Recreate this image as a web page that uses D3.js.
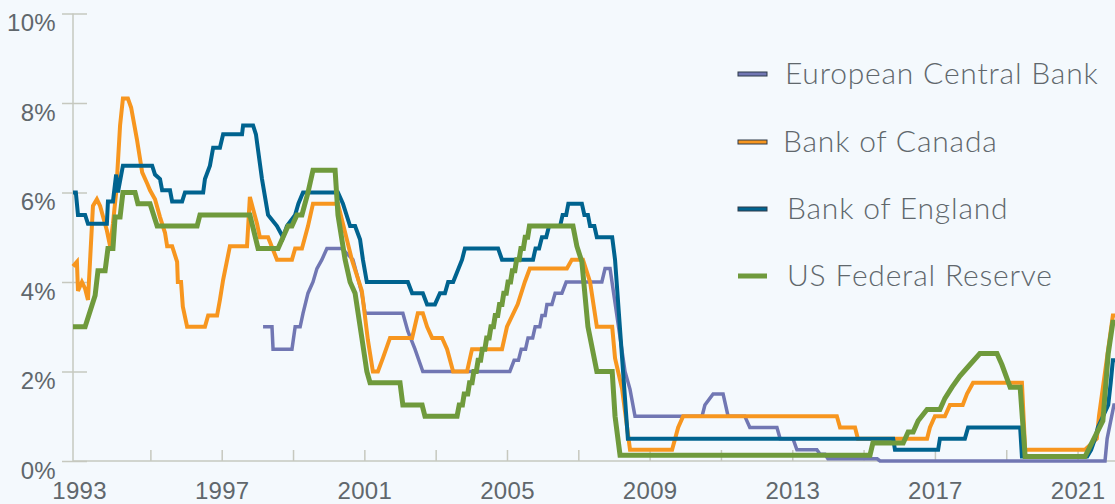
<!DOCTYPE html>
<html>
<head>
<meta charset="utf-8">
<script src="https://cdn.jsdelivr.net/npm/d3@7"></script>
<style>
  body { margin: 0; background: #f4f9fd; }
  svg { display: block; font-family: Lato, "Open Sans", sans-serif; }
  .axis text { fill: #60676c; font-size: 24px; font-weight: 300; letter-spacing: 0.3px; }
  .axis line { stroke: #c6c8bf; stroke-width: 1.5; }
  .legend text { fill: #60676c; font-size: 30px; font-weight: 300; letter-spacing: 0.8px; }
</style>
</head>
<body>
<div id="chart"></div>
<script>
// [decimal year, policy rate %]
var ecb = [[1998.16,3.0],[1998.41,3.0],[1998.44,2.5],[1998.97,2.5],[1999.06,3.0],[1999.20,3.0],[1999.28,3.3],
  [1999.42,3.75],[1999.56,4.0],[1999.67,4.3],[1999.81,4.5],[1999.95,4.75],[2000.37,4.75],[2000.68,4.5],
  [2000.93,3.75],[2001.02,3.3],[2002.08,3.3],[2002.22,2.9],[2002.42,2.5],[2002.64,2.0],[2005.08,2.0],
  [2005.20,2.25],[2005.32,2.25],[2005.40,2.5],[2005.52,2.5],[2005.59,2.75],[2005.72,2.75],[2005.79,3.0],
  [2005.92,3.0],[2005.98,3.25],[2006.07,3.25],[2006.12,3.5],[2006.26,3.5],[2006.35,3.75],[2006.54,3.75],
  [2006.66,4.0],[2007.66,4.0],[2007.75,4.3],[2007.89,4.3],[2008.31,2.0],[2008.45,1.6],[2008.59,1.0],
  [2010.47,1.0],[2010.55,1.25],[2010.78,1.5],[2011.06,1.5],[2011.20,1.0],[2011.67,1.0],[2011.81,0.75],
  [2012.57,0.75],[2012.66,0.5],[2013.02,0.5],[2013.13,0.25],[2013.69,0.25],[2013.78,0.15],[2013.92,0.15],
  [2014.00,0.05],[2015.38,0.05],[2015.46,0],[2021.77,0],[2021.83,0.5],[2022.02,1.25],[2022.05,1.25]];

var canada = [[1992.83,4.35],[1992.94,4.45],[1992.97,3.8],[1993.08,4.0],[1993.17,3.85],[1993.25,3.6],
  [1993.39,5.7],[1993.50,5.85],[1993.59,5.7],[1993.78,5.15],[1993.87,4.8],[1993.95,5.3],[1994.04,6.0],
  [1994.15,7.5],[1994.23,8.1],[1994.37,8.1],[1994.46,7.9],[1994.62,7.2],[1994.77,6.45],[1994.91,6.2],
  [1994.99,6.05],[1995.13,5.85],[1995.27,5.45],[1995.41,5.1],[1995.47,4.8],[1995.61,4.8],[1995.75,4.45],
  [1995.77,4.0],[1995.86,4.0],[1995.91,3.45],[1996.03,3.0],[1996.53,3.0],[1996.62,3.25],[1996.87,3.25],
  [1996.95,3.6],[1997.04,4.05],[1997.23,4.8],[1997.71,4.8],[1997.79,5.9],[1997.99,5.3],[1998.07,5.0],
  [1998.30,5.0],[1998.55,4.5],[1998.97,4.5],[1999.06,4.75],[1999.25,4.75],[1999.42,5.25],[1999.56,5.75],
  [2000.26,5.75],[2000.65,4.5],[2000.93,3.8],[2001.10,2.7],[2001.24,2.0],[2001.38,2.0],[2001.52,2.3],
  [2001.72,2.75],[2002.34,2.75],[2002.50,3.3],[2002.64,3.3],[2002.76,3.0],[2002.90,2.75],[2003.18,2.75],
  [2003.32,2.5],[2003.49,2.0],[2003.88,2.0],[2004.02,2.5],[2004.86,2.5],[2005.00,3.0],[2005.30,3.5],
  [2005.50,4.0],[2005.64,4.3],[2006.68,4.3],[2006.82,4.5],[2007.13,4.5],[2007.33,4.0],[2007.52,3.0],
  [2007.95,3.0],[2008.03,2.3],[2008.23,1.6],[2008.45,0.25],[2009.63,0.25],[2009.80,0.75],[2009.94,1.0],
  [2014.25,1.0],[2014.34,0.75],[2014.76,0.75],[2014.84,0.5],[2016.78,0.5],[2016.86,0.75],[2017.00,1.0],
  [2017.28,1.0],[2017.42,1.25],[2017.78,1.25],[2017.90,1.5],[2018.07,1.75],[2019.44,1.75],[2019.53,0.25],
  [2021.21,0.25],[2021.54,0.5],[2021.60,1.0],[2021.86,2.5],[2021.99,3.25],[2022.05,3.25]];

var england = [[1992.83,6.0],[1992.91,6.0],[1992.97,5.5],[1993.17,5.5],[1993.25,5.3],[1993.78,5.3],
  [1993.81,5.8],[1993.95,5.8],[1994.04,6.4],[1994.09,6.0],[1994.23,6.6],[1995.05,6.6],[1995.13,6.4],
  [1995.27,6.3],[1995.33,6.05],[1995.55,6.05],[1995.61,5.8],[1995.89,5.8],[1995.97,6.0],[1996.48,6.0],
  [1996.53,6.3],[1996.67,6.6],[1996.76,7.0],[1996.95,7.0],[1997.04,7.3],[1997.57,7.3],[1997.60,7.5],
  [1997.88,7.5],[1997.96,7.3],[1998.13,6.3],[1998.30,5.5],[1998.55,5.25],[1998.72,5.0],[1998.83,5.25],
  [1999.06,5.5],[1999.15,5.75],[1999.28,6.0],[2000.26,6.0],[2000.40,5.75],[2000.60,5.25],[2000.74,5.25],
  [2000.88,4.95],[2000.96,4.5],[2001.07,4.0],[2002.22,4.0],[2002.34,3.75],[2002.64,3.75],[2002.76,3.5],
  [2002.98,3.5],[2003.12,3.75],[2003.26,3.75],[2003.35,4.0],[2003.49,4.0],[2003.74,4.5],[2003.82,4.75],
  [2004.75,4.75],[2004.86,4.5],[2005.73,4.5],[2005.80,4.75],[2005.90,4.75],[2005.98,5.0],[2006.10,5.0],
  [2006.18,5.25],[2006.49,5.25],[2006.56,5.5],[2006.66,5.5],[2006.72,5.75],[2007.10,5.75],[2007.17,5.5],
  [2007.27,5.5],[2007.33,5.25],[2007.45,5.25],[2007.52,5.0],[2007.95,5.0],
  [2008.03,4.5],[2008.39,0.5],[2015.83,0.5],[2015.88,0.25],[2017.09,0.25],[2017.14,0.5],[2017.84,0.5],
  [2017.93,0.75],[2019.39,0.75],[2019.44,0.1],[2021.27,0.1],[2021.38,0.25],[2021.49,0.5],[2021.57,0.75],
  [2021.86,1.25],[2021.93,1.75],[2021.99,2.25],[2022.05,2.25]];

var fed = [[1992.83,3.0],[1993.17,3.0],[1993.45,3.7],[1993.53,4.25],[1993.73,4.25],[1993.81,4.75],
  [1993.95,4.75],[1994.01,5.45],[1994.15,5.45],[1994.23,6.0],[1994.57,6.0],[1994.65,5.75],[1994.99,5.75],
  [1995.19,5.25],[1996.31,5.25],[1996.39,5.5],[1997.79,5.5],[1998.02,4.75],[1998.58,4.75],[1998.72,5.0],
  [1998.86,5.25],[1998.97,5.25],[1999.11,5.5],[1999.25,5.5],[1999.42,6.0],[1999.56,6.5],[2000.18,6.5],
  [2000.26,5.5],[2000.46,4.5],[2000.60,4.0],[2000.74,3.75],[2000.93,2.75],[2001.07,2.0],[2001.16,1.75],
  [2002.00,1.75],[2002.08,1.25],[2002.62,1.25],[2002.70,1.0],[2003.60,1.0],
  [2003.66,1.25],[2003.75,1.25],[2003.80,1.5],[2003.90,1.5],[2003.95,1.75],[2004.02,1.75],[2004.07,2.0],
  [2004.14,2.0],[2004.19,2.25],[2004.26,2.25],[2004.31,2.5],[2004.38,2.5],[2004.43,2.75],[2004.50,2.75],
  [2004.55,3.0],[2004.62,3.0],[2004.67,3.25],[2004.74,3.25],[2004.79,3.5],[2004.86,3.5],[2004.91,3.75],
  [2004.98,3.75],[2005.03,4.0],[2005.10,4.0],[2005.15,4.25],[2005.22,4.25],[2005.27,4.5],[2005.34,4.5],
  [2005.39,4.75],[2005.46,4.75],[2005.51,5.0],[2005.58,5.0],[2005.63,5.25],
  [2006.85,5.25],[2006.96,4.8],[2007.10,4.45],[2007.27,3.0],
  [2007.52,2.0],[2007.95,2.0],[2008.03,1.0],[2008.17,0.13],[2015.18,0.13],[2015.26,0.4],[2016.11,0.4],
  [2016.25,0.65],[2016.39,0.65],[2016.53,0.9],[2016.78,1.15],[2017.14,1.15],[2017.28,1.4],[2017.48,1.65],
  [2017.70,1.9],[2017.98,2.15],[2018.26,2.4],[2018.74,2.4],[2018.88,2.15],[2019.11,1.65],[2019.39,1.65],
  [2019.53,0.1],[2021.21,0.1],[2021.71,0.9],[2021.86,2.4],[2021.99,3.1],[2022.05,3.1]];

var seriesNames = ["European Central Bank", "Bank of Canada", "Bank of England", "US Federal Reserve"];
var seriesData = [ecb, canada, england, fed];
var colors = ["#7177b3", "#f7961f", "#00638f", "#6f9a3c"];
var labelYears = [1993, 1997, 2001, 2005, 2009, 2013, 2017, 2021];
var tickYears = [1995, 1997, 1999, 2001, 2003, 2005, 2007, 2009, 2011, 2013, 2015, 2017, 2019, 2021];
var yTicks = [0, 2, 4, 6, 8, 10];

var width = 1115, height = 504;

var svg = d3.select("#chart")
    .append("svg")
    .attr("width", width)
    .attr("height", height);

var x = d3.scaleLinear().domain([1992.83, 2022.05]).range([73, 1115]);
var y = d3.scaleLinear().domain([0, 10]).range([461, 13.5]);

// y axis: short ticks crossing the axis line
svg.append("g")
    .attr("class", "axis")
    .attr("transform", "translate(87,0)")
    .call(d3.axisLeft(y).tickValues(yTicks).tickSize(25).tickPadding(6)
        .tickFormat(function(d) { return d + "%"; }))
    .call(function(g) { g.select(".domain").remove(); })
    .selectAll("text")
    .attr("dy", "0.71em");

svg.append("line")
    .attr("x1", 73).attr("x2", 73)
    .attr("y1", y(10)).attr("y2", y(0))
    .style("stroke", "#c6c8bf").style("stroke-width", 1.5);

// x axis ticks (every 2 years)
svg.append("g")
    .attr("class", "axis")
    .attr("transform", "translate(0," + y(0) + ")")
    .call(d3.axisTop(x).tickValues(tickYears).tickSize(11).tickFormat(""))
    .call(function(g) { g.select(".domain").remove(); });

// x axis labels (every 4 years)
svg.append("g")
    .attr("class", "axis")
    .attr("transform", "translate(0," + y(0) + ")")
    .call(d3.axisBottom(x).tickValues(labelYears).tickSize(0).tickPadding(21).tickFormat(d3.format("d")))
    .call(function(g) { g.select(".domain").remove(); });

svg.append("line")
    .attr("x1", 73).attr("x2", 1115)
    .attr("y1", y(0)).attr("y2", y(0))
    .style("stroke", "#c6c8bf").style("stroke-width", 1.5);

var line = d3.line()
    .x(function(d) { return x(d[0]); })
    .y(function(d) { return y(d[1]); });

var widths = [3.5, 4, 4, 5];

svg.selectAll(".series")
    .data(seriesData)
    .enter()
    .append("path")
    .attr("class", "series")
    .attr("d", line)
    .style("fill", "none")
    .style("stroke", function(d, i) { return colors[i]; })
    .style("stroke-width", function(d, i) { return widths[i]; });

// legend
var legendY = [74, 142, 209, 276];
var legendTextX = [785, 783, 787, 787];
var legend = svg.append("g").attr("class", "legend");

seriesNames.forEach(function(name, i) {
    if (i < 3) {
        legend.append("rect")
            .attr("x", 738).attr("y", legendY[i] - 2)
            .attr("width", 29).attr("height", 4)
            .style("fill", colors[i])
            .style("stroke", "#2d3a4a")
            .style("stroke-width", 1);
    } else {
        legend.append("rect")
            .attr("x", 738).attr("y", legendY[i] - 2.5)
            .attr("width", 29).attr("height", 5)
            .style("fill", colors[i]);
    }
    legend.append("text")
        .attr("x", legendTextX[i])
        .attr("y", legendY[i] + 10)
        .text(name);
});
</script>
</body>
</html>
